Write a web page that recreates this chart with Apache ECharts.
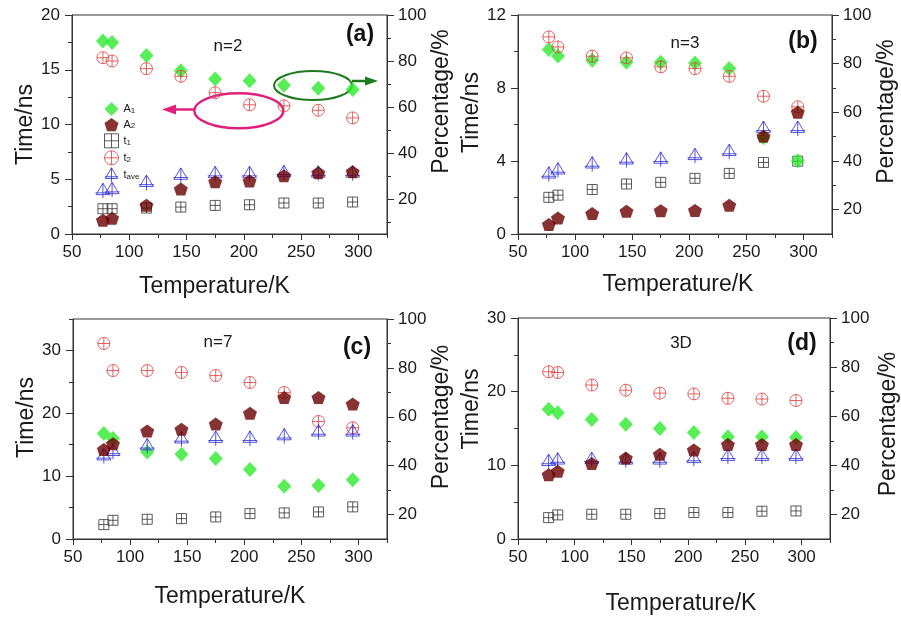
<!DOCTYPE html>
<html>
<head>
<meta charset="utf-8">
<script src="https://cdn.jsdelivr.net/npm/echarts@6/dist/echarts.min.js"></script>
<style>html,body{margin:0;padding:0;background:#fff;}#c{width:901px;height:621px;}</style>
</head>
<body>
<div id="c"></div>
<script>
// ---------- data ----------
const temperature = [77, 85, 115, 145, 175, 205, 235, 265, 295];

const a_A1 = [88.7, 88.1, 82.4, 75.8, 72.2, 71.5, 69.5, 68.2, 67.7];
const a_A2 = [11.0, 11.8, 17.5, 24.5, 27.7, 28.0, 30.3, 31.6, 32.0];
const a_t1 = [2.31, 2.31, 2.37, 2.46, 2.61, 2.67, 2.83, 2.83, 2.92];
const a_t2 = [16.1, 15.8, 15.1, 14.4, 12.9, 11.8, 11.7, 11.3, 10.6];
const a_tave = [3.95, 4.04, 4.7, 5.35, 5.5, 5.5, 5.6, 5.55, 5.55];

const b_A1 = [85.8, 83.2, 81.4, 80.6, 80.6, 80.3, 78.0, 49.6, 40.1];
const b_A2 = [13.9, 16.6, 18.4, 19.3, 19.6, 19.7, 21.8, 50.2, 60.0];
const b_t1 = [2.01, 2.13, 2.44, 2.74, 2.83, 3.05, 3.32, 3.92, 3.99];
const b_t2 = [10.8, 10.25, 9.74, 9.65, 9.16, 9.06, 8.64, 7.55, 6.97];
const b_tave = [3.28, 3.5, 3.83, 4.05, 4.09, 4.29, 4.51, 5.78, 5.78];

const c_A1 = [53.2, 51.1, 45.6, 44.7, 42.9, 38.4, 31.6, 31.9, 34.2];
const c_A2 = [46.6, 49.0, 54.2, 54.9, 57.0, 61.4, 67.9, 67.9, 65.2];
const c_t1 = [2.29, 2.98, 3.14, 3.24, 3.51, 4.04, 4.15, 4.31, 5.11];
const c_t2 = [31.1, 26.8, 26.8, 26.5, 26.0, 24.9, 23.3, 18.7, 17.7];
const c_tave = [13.2, 13.9, 14.8, 15.9, 16.0, 16.0, 16.4, 17.0, 17.0];

const d_A1 = [62.8, 61.4, 58.7, 56.7, 55.0, 53.4, 51.6, 51.6, 51.3];
const d_A2 = [36.2, 37.6, 40.7, 43.0, 44.5, 46.2, 48.5, 48.5, 48.5];
const d_t1 = [2.9, 3.27, 3.36, 3.36, 3.45, 3.59, 3.59, 3.77, 3.81];
const d_t2 = [22.7, 22.6, 20.9, 20.2, 19.8, 19.7, 19.1, 19.0, 18.8];
const d_tave = [10.5, 10.7, 10.8, 10.7, 10.7, 10.9, 11.2, 11.2, 11.2];

// tick labels
const xTicks = [50, 100, 150, 200, 250, 300];
const xMinor = [75, 125, 175, 225, 275, 325];
const pctTicks = [20, 40, 60, 80, 100];
const pctMinor = [10, 30, 50, 70, 90];
const a_timeTicks = [0, 5, 10, 15, 20];
const a_timeMinor = [2.5, 7.5, 12.5, 17.5];
const b_timeTicks = [0, 4, 8, 12];
const b_timeMinor = [2, 6, 10];
const c_timeTicks = [0, 10, 20, 30];
const c_timeMinor = [5, 15, 25, 35];
const d_timeTicks = [0, 10, 20, 30];
const d_timeMinor = [5, 15, 25];

const panelLabels = ['(a)', '(b)', '(c)', '(d)'];
const panelNotes = ['n=2', 'n=3', 'n=7', '3D'];
const seriesNames = ['A1', 'A2', 't1', 't2', 'tave'];

// ---------- layout / style ----------
const FONT = 'Liberation Sans, Arial, Helvetica, sans-serif';
const TXT = '#1a1a1a';
const AX = '#333';
const panels = [
  {grid:{left:72, top:15, width:315, height:219}, tMax:20, tTicks:a_timeTicks, tMinor:a_timeMinor, pMin:5,
   A1:a_A1, A2:a_A2, t1:a_t1, t2:a_t2, tave:a_tave,
   xGap:41, xPad:[0,30,0,0], lGap:34, lPad:[0,0,0,0], rGap:38, rPad:[0,0,0,46],
   note:[228,46], lab:[360,35]},
  {grid:{left:518, top:15, width:314, height:219}, tMax:12, tTicks:b_timeTicks, tMinor:b_timeMinor, pMin:10,
   A1:b_A1, A2:b_A2, t1:b_t1, t2:b_t2, tave:b_tave,
   xGap:39, xPad:[0,0,0,6], lGap:14, lPad:[0,0,0,24], rGap:39, rPad:[0,0,0,26],
   note:[685,43], lab:[803,42]},
  {grid:{left:73, top:319, width:314, height:220}, tMax:35, tTicks:c_timeTicks, tMinor:c_timeMinor, pMin:10,
   A1:c_A1, A2:c_A2, t1:c_t1, t2:c_t2, tave:c_tave,
   xGap:46, xPad:[0,0,0,0], lGap:32, lPad:[0,0,0,23], rGap:33, rPad:[0,0,0,24],
   note:[218,342], lab:[357,348]},
  {grid:{left:518, top:318, width:314, height:221}, tMax:30, tTicks:d_timeTicks, tMinor:d_timeMinor, pMin:10,
   A1:d_A1, A2:d_A2, t1:d_t1, t2:d_t2, tave:d_tave,
   xGap:53, xPad:[0,0,0,14], lGap:35, lPad:[0,0,0,39], rGap:47, rPad:[0,0,0,9],
   note:[681,343], lab:[802,344]}
];

const SYM = {
  A1: {symbol:'diamond', size:[14,15], style:{color:'#2eea2e', borderWidth:0}},
  A2: {symbol:'path://M5,0 L10,3.63 L8.09,9.51 L1.91,9.51 L0,3.63 Z', size:[14,13], style:{color:'#6a0000', borderWidth:0}},
  t1: {symbol:'path://M0,0 L10,0 L10,10 L0,10 Z M5,0 L5,10 M0,5 L10,5', size:[10,10], style:{color:'rgba(0,0,0,0)', borderColor:'#333', borderWidth:1}},
  t2: {symbol:'path://M5,0 A5,5 0 1,1 5,10 A5,5 0 1,1 5,0 Z M5,0 L5,10 M0,5 L10,5', size:[12,12], style:{color:'rgba(0,0,0,0)', borderColor:'#e03c3c', borderWidth:1}},
  tave: {symbol:'path://M6,0 L11.5,9.5 L0.5,9.5 Z M6,0 L6,12.5 M0,8 L12,8', size:[15,15], style:{color:'rgba(0,0,0,0)', borderColor:'#2b2bd4', borderWidth:1}}
};

const grids = [], xAxes = [], yAxes = [], series = [];
const baseLine = {show:true, onZero:false, lineStyle:{color:AX, width:1}};
const labelStyle = {color:TXT, fontSize:17, fontFamily:FONT};
const nameStyle = (pad) => ({color:TXT, fontSize:23, fontFamily:FONT, padding:pad});

panels.forEach((p, i) => {
  grids.push(Object.assign({show:true, borderColor:AX, borderWidth:1, backgroundColor:'transparent'}, p.grid));
  xAxes.push({gridIndex:i, type:'value', position:'bottom', min:50, max:325,
    axisLine:baseLine, splitLine:{show:false},
    axisTick:{show:true, inside:false, length:6, customValues:xTicks, lineStyle:{color:AX}},
    axisLabel:{show:true, margin:10, customValues:xTicks, ...labelStyle},
    name:'Temperature/K', nameLocation:'middle', nameGap:p.xGap, nameTextStyle:nameStyle(p.xPad)});
  xAxes.push({gridIndex:i, type:'value', position:'bottom', min:50, max:325,
    axisLine:{show:false}, splitLine:{show:false}, axisLabel:{show:false},
    axisTick:{show:true, length:4, customValues:xMinor, lineStyle:{color:AX}}});
  yAxes.push({gridIndex:i, type:'value', position:'left', min:0, max:p.tMax,
    axisLine:baseLine, splitLine:{show:false},
    axisTick:{show:true, length:7, customValues:p.tTicks, lineStyle:{color:AX}},
    axisLabel:{show:true, margin:12, customValues:p.tTicks, ...labelStyle},
    name:'Time/ns', nameLocation:'middle', nameGap:p.lGap, nameTextStyle:nameStyle(p.lPad)});
  yAxes.push({gridIndex:i, type:'value', position:'left', min:0, max:p.tMax,
    axisLine:{show:false}, splitLine:{show:false}, axisLabel:{show:false},
    axisTick:{show:true, length:4, customValues:p.tMinor, lineStyle:{color:AX}}});
  yAxes.push({gridIndex:i, type:'value', position:'right', min:p.pMin, max:100,
    axisLine:baseLine, splitLine:{show:false},
    axisTick:{show:true, length:7, customValues:pctTicks, lineStyle:{color:AX}},
    axisLabel:{show:true, margin:11, customValues:pctTicks, ...labelStyle},
    name:'Percentage/%', nameLocation:'middle', nameGap:p.rGap, nameTextStyle:nameStyle(p.rPad)});
  yAxes.push({gridIndex:i, type:'value', position:'right', min:p.pMin, max:100,
    axisLine:{show:false}, splitLine:{show:false}, axisLabel:{show:false},
    axisTick:{show:true, length:4, customValues:pctMinor.filter(v => v > p.pMin), lineStyle:{color:AX}}});

  const mk = (name, arr, right) => ({
    type:'scatter', name:name, xAxisIndex:2*i, yAxisIndex: right ? 4*i+2 : 4*i,
    symbol:SYM[name].symbol, symbolSize:SYM[name].size, itemStyle:SYM[name].style,
    emphasis:{disabled:true}, animation:false,
    data: temperature.map((t, k) => [t, arr[k]])
  });
  series.push(mk('t1', p.t1, false));
  series.push(mk('A1', p.A1, true));
  series.push(mk('t2', p.t2, false));
  series.push(mk('tave', p.tave, false));
  series.push(mk('A2', p.A2, true));
});

const graphics = [];
panels.forEach((p, i) => {
  graphics.push({type:'text', x:p.note[0], y:p.note[1], silent:true,
    style:{text:panelNotes[i], font:'17px ' + FONT, fill:TXT, align:'center', verticalAlign:'middle'}});
  graphics.push({type:'text', x:p.lab[0], y:p.lab[1], silent:true,
    style:{text:panelLabels[i], font:'bold 23px ' + FONT, fill:'#111', align:'center', verticalAlign:'middle'}});
});
const GREEN = '#1d7a1d', MAG = '#e0207e';
graphics.push({type:'ellipse', shape:{cx:313, cy:85.5, rx:39, ry:14.5}, silent:true, style:{fill:'none', stroke:GREEN, lineWidth:2}});
graphics.push({type:'line', shape:{x1:352, y1:81, x2:367, y2:81}, silent:true, style:{stroke:GREEN, lineWidth:2.5}});
graphics.push({type:'polygon', shape:{points:[[365,76.5],[378,81],[365,85.5]]}, silent:true, style:{fill:GREEN}});
graphics.push({type:'ellipse', shape:{cx:238.8, cy:110.8, rx:44.5, ry:17.5}, silent:true, style:{fill:'none', stroke:MAG, lineWidth:2.5}});
graphics.push({type:'line', shape:{x1:194, y1:109.5, x2:174, y2:109.5}, silent:true, style:{stroke:MAG, lineWidth:2.5}});
graphics.push({type:'polygon', shape:{points:[[176,104.5],[162,109.5],[176,114.5]]}, silent:true, style:{fill:MAG}});

const subMap = {A1:['A','1'], A2:['A','2'], t1:['t','1'], t2:['t','2'], tave:['t','ave']};
const legendData = seriesNames.map(n => {
  const s = SYM[n];
  return {name:n, icon:s.symbol, itemStyle:Object.assign({}, s.style)};
});

const option = {
  backgroundColor:'#fff',
  animation:false,
  textStyle:{fontFamily:FONT},
  grid:grids, xAxis:xAxes, yAxis:yAxes, series:series,
  legend:{
    show:true, orient:'vertical', left:99, top:97, itemGap:2, itemWidth:14, itemHeight:14,
    data:legendData, selectedMode:false,
    formatter:(n) => '{m|' + subMap[n][0] + '}{s|' + subMap[n][1] + '}',
    textStyle:{color:TXT, fontFamily:FONT, rich:{m:{fontSize:11, color:TXT}, s:{fontSize:8, color:TXT, verticalAlign:'bottom'}}}
  },
  graphic:graphics
};

const chart = echarts.init(document.getElementById('c'), null, {renderer:'canvas'});
chart.setOption(option);
</script>
</body>
</html>
